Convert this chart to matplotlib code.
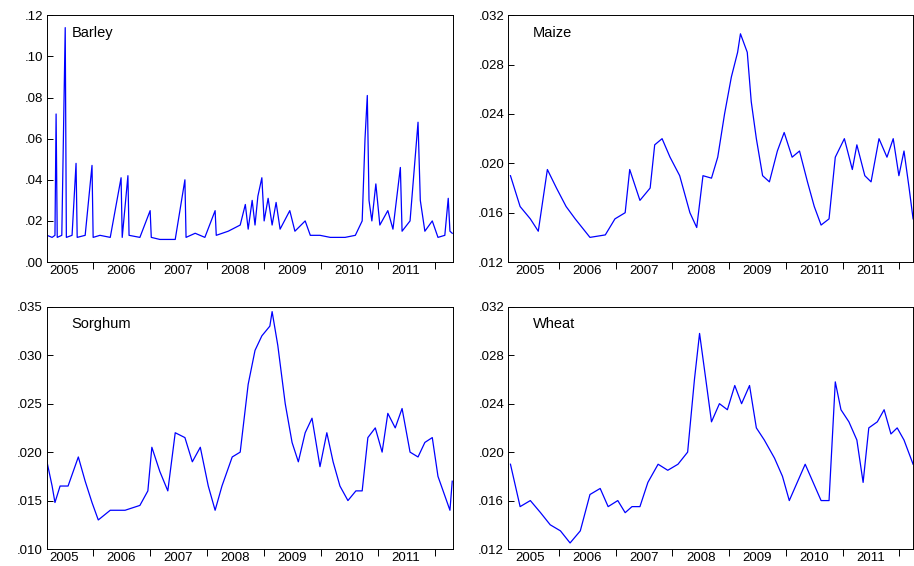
import matplotlib
matplotlib.use("Agg")
import matplotlib.pyplot as plt
import numpy as np

plt.rcParams['font.family'] = ['Liberation Sans', 'DejaVu Sans']

barley_t = [2005.20,2005.29,2005.34,2005.36,2005.38,2005.46,2005.52,2005.54,2005.64,2005.71,2005.73,2005.87,2005.99,2006.01,2006.13,2006.31,2006.50,2006.52,2006.62,2006.64,2006.83,2007.01,2007.03,2007.18,2007.45,2007.62,2007.64,2007.80,2007.97,2008.15,2008.17,2008.38,2008.59,2008.68,2008.73,2008.80,2008.85,2008.90,2008.97,2009.01,2009.08,2009.15,2009.22,2009.29,2009.46,2009.55,2009.73,2009.82,2009.99,2010.17,2010.43,2010.61,2010.73,2010.78,2010.82,2010.85,2010.90,2010.97,2011.04,2011.18,2011.27,2011.40,2011.43,2011.57,2011.71,2011.75,2011.83,2011.96,2012.06,2012.18,2012.24,2012.27,2012.31]
barley_v = [.013,.012,.013,.072,.012,.013,.114,.012,.013,.048,.012,.013,.047,.012,.013,.012,.041,.012,.042,.013,.012,.025,.012,.011,.011,.040,.012,.014,.012,.025,.013,.015,.018,.028,.016,.030,.018,.032,.041,.020,.031,.018,.029,.016,.025,.015,.020,.013,.013,.012,.012,.013,.020,.060,.081,.030,.020,.038,.018,.025,.016,.046,.015,.020,.068,.030,.015,.020,.012,.013,.031,.015,.014]

maize_t = [2005.15,2005.32,2005.50,2005.64,2005.80,2005.96,2006.13,2006.29,2006.55,2006.82,2006.99,2007.17,2007.25,2007.43,2007.61,2007.69,2007.82,2007.96,2008.13,2008.31,2008.43,2008.54,2008.69,2008.80,2008.92,2009.04,2009.15,2009.20,2009.32,2009.39,2009.48,2009.59,2009.71,2009.85,2009.97,2010.11,2010.24,2010.38,2010.50,2010.62,2010.76,2010.87,2011.03,2011.17,2011.25,2011.39,2011.50,2011.64,2011.78,2011.89,2011.99,2012.08,2012.17,2012.24]
maize_v = [.019,.0165,.0155,.0145,.0195,.018,.0165,.0155,.014,.0142,.0155,.016,.0195,.017,.018,.0215,.022,.0205,.019,.016,.0148,.019,.0188,.0205,.024,.027,.029,.0305,.029,.025,.022,.019,.0185,.021,.0225,.0205,.021,.0185,.0165,.015,.0155,.0205,.022,.0195,.0215,.019,.0185,.022,.0205,.022,.019,.021,.018,.0155]

sorghum_t = [2005.20,2005.29,2005.34,2005.43,2005.57,2005.75,2005.87,2005.99,2006.10,2006.31,2006.57,2006.83,2006.97,2007.04,2007.18,2007.32,2007.45,2007.62,2007.75,2007.89,2008.03,2008.15,2008.27,2008.45,2008.59,2008.73,2008.85,2008.97,2009.11,2009.15,2009.25,2009.38,2009.50,2009.61,2009.73,2009.85,2009.99,2010.11,2010.22,2010.34,2010.48,2010.62,2010.73,2010.83,2010.96,2011.08,2011.18,2011.31,2011.43,2011.57,2011.71,2011.83,2011.96,2012.06,2012.18,2012.27,2012.31]
sorghum_v = [.019,.0165,.0148,.0165,.0165,.0195,.017,.0148,.013,.014,.014,.0145,.016,.0205,.018,.016,.022,.0215,.019,.0205,.0165,.014,.0165,.0195,.020,.027,.0305,.032,.033,.0345,.031,.025,.021,.019,.022,.0235,.0185,.022,.019,.0165,.015,.016,.016,.0215,.0225,.020,.024,.0225,.0245,.020,.0195,.021,.0215,.0175,.0155,.014,.017]

wheat_t = [2005.15,2005.32,2005.50,2005.68,2005.85,2006.03,2006.20,2006.38,2006.55,2006.73,2006.87,2007.04,2007.17,2007.29,2007.43,2007.57,2007.75,2007.92,2008.10,2008.27,2008.39,2008.48,2008.59,2008.69,2008.83,2008.97,2009.10,2009.22,2009.36,2009.48,2009.62,2009.80,2009.94,2010.06,2010.20,2010.34,2010.48,2010.62,2010.76,2010.87,2010.97,2011.11,2011.25,2011.36,2011.46,2011.61,2011.73,2011.85,2011.96,2012.08,2012.24]
wheat_v = [.019,.0155,.016,.015,.014,.0135,.0125,.0135,.0165,.017,.0155,.016,.015,.0155,.0155,.0175,.019,.0185,.019,.020,.026,.0298,.026,.0225,.024,.0235,.0255,.024,.0255,.022,.021,.0195,.018,.016,.0175,.019,.0175,.016,.016,.0258,.0235,.0225,.021,.0175,.022,.0225,.0235,.0215,.022,.021,.019]

years = list(range(2005, 2012))

panels = [
    ("Barley", barley_t, barley_v, [0.0, 0.12], np.arange(0, 0.121, 0.02), ".2f", (2005.20, 2012.32)),
    ("Maize", maize_t, maize_v, [0.012, 0.032], np.arange(0.012, 0.0321, 0.004), ".3f", (2005.11, 2012.24)),
    ("Sorghum", sorghum_t, sorghum_v, [0.010, 0.035], np.arange(0.010, 0.0351, 0.005), ".3f", (2005.20, 2012.32)),
    ("Wheat", wheat_t, wheat_v, [0.012, 0.032], np.arange(0.012, 0.0321, 0.004), ".3f", (2005.11, 2012.24)),
]
rects = [[0.0514, 0.537, 0.444, 0.436], [0.556, 0.537, 0.443, 0.436],
         [0.0514, 0.030, 0.444, 0.428], [0.556, 0.030, 0.443, 0.428]]

fig = plt.figure(figsize=(9.14, 5.66), dpi=100)
for (name, t, v, ylim, yt, fmt, xlim), r in zip(panels, rects):
    ax = fig.add_axes(r)
    ax.plot(t, v, color='#0000ff', lw=0.9)
    ax.set_yticks(yt)
    ax.set_yticklabels([format(y, fmt).lstrip('0') for y in yt])
    ax.set_xticks(years + [2012])
    ax.set_xticklabels([])
    ax.set_xticks([y + 0.5 for y in years], minor=True)
    ax.set_xticklabels([str(y) for y in years], minor=True)
    ax.set_xlim(*xlim)
    ax.set_ylim(*ylim)
    ax.tick_params(axis='x', which='major', direction='out', length=5, width=0.7)
    ax.tick_params(axis='x', which='minor', length=0, labelsize=9.5, pad=2)
    ax.tick_params(axis='y', direction='in', length=4, width=0.7, labelsize=9.5, pad=3)
    for s in ax.spines.values():
        s.set_linewidth(0.7)
    ax.text(0.06, 0.93, name, transform=ax.transAxes, fontsize=10.5, va='center')

fig.savefig("out.png", dpi=100)
